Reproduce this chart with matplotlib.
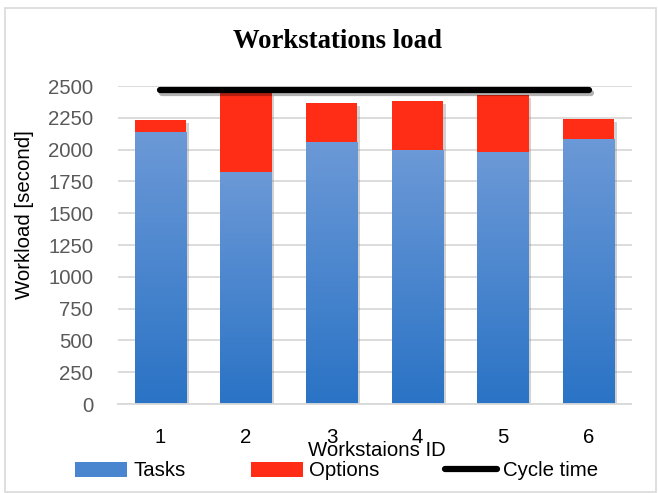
import numpy as np
import matplotlib
matplotlib.use("Agg")
import matplotlib.pyplot as plt
import matplotlib.patheffects as pe
from matplotlib.patches import Rectangle, Patch
from matplotlib.lines import Line2D

# data
stations = ["1", "2", "3", "4", "5", "6"]
tasks = [2138, 1824, 2060, 1997, 1981, 2083]
options = [95, 619, 306, 385, 448, 158]
cycle_time = 2470

plt.rcParams['font.family'] = ['Liberation Sans', 'DejaVu Sans']
fs = 14.7

fig = plt.figure(figsize=(6.58, 4.93), dpi=100)
ax = fig.add_axes([117.5 / 658, 1 - 404 / 493, 514 / 658, 318 / 493])

x = np.arange(1, len(stations) + 1)
shadow = [pe.SimplePatchShadow(offset=(2, -2), shadow_rgbFace='#808080', alpha=0.35), pe.Normal()]

b1 = ax.bar(x, tasks, width=0.6, color='#4a86cf', zorder=2, path_effects=shadow)
b2 = ax.bar(x, options, width=0.6, bottom=tasks, color='#ff2d16', zorder=2, path_effects=shadow)

# vertical gradient on the task bars (lighter at top, darker at bottom)
grad = np.linspace(0, 1, 256).reshape(-1, 1)
cmap = matplotlib.colors.LinearSegmentedColormap.from_list('bl', ['#2a73c5', '#6c99d7'])
for bar in b1:
    bx, by = bar.get_x(), bar.get_y()
    w, h = bar.get_width(), bar.get_height()
    im = ax.imshow(grad, extent=[bx, bx + w, by, by + h], origin='lower', cmap=cmap,
                   aspect='auto', zorder=2.1)
    im.set_clip_path(bar)

ax.plot([x[0], x[-1]], [cycle_time, cycle_time], color='black', lw=4.5,
        solid_capstyle='round', zorder=3,
        path_effects=[pe.SimpleLineShadow(offset=(1.5, -2.5), alpha=0.3), pe.Normal()])

ax.set_xlim(0.5, 6.5)
ax.set_ylim(0, 2500)
ax.set_yticks(range(0, 2501, 250))
ax.set_xticks(x)
ax.set_xticklabels(stations)
ax.grid(axis='y', color='#d9d9d9', lw=1.3, zorder=0)
ax.set_axisbelow(True)
for s in ['top', 'right', 'left']:
    ax.spines[s].set_visible(False)
ax.spines['bottom'].set_color('#d9d9d9')
ax.spines['bottom'].set_linewidth(1.3)
ax.tick_params(axis='y', length=0, labelsize=fs, labelcolor='#595959', pad=17.5)
ax.tick_params(axis='x', length=0, labelsize=fs, labelcolor='black', pad=17)

fig.text(337 / 658, 1 - 42 / 493, 'Workstations load', ha='center', va='center',
         fontsize=19.3, fontweight='bold', family=['Liberation Serif', 'DejaVu Serif'])
fig.text(25 / 658, 1 - 215 / 493, 'Workload [second]', rotation=90, ha='center', va='center',
         fontsize=fs)
fig.text(377 / 658, 1 - 451 / 493, 'Workstaions ID', ha='center', va='center', fontsize=fs)

handles = [Patch(facecolor='#4a86cf'), Patch(facecolor='#ff2d16'),
           Line2D([0], [0], color='black', lw=4.5, solid_capstyle='round')]
fig.legend(handles, ['Tasks', 'Options', 'Cycle time'], ncol=3, loc='center left',
           bbox_to_anchor=(75 / 658, 1 - 471 / 493), frameon=False, fontsize=fs,
           handlelength=2.55, handleheight=0.7, handletextpad=0.3, columnspacing=3.2,
           borderpad=0, borderaxespad=0)

fig.patches.append(Rectangle((5 / 658, 1 / 493), 651 / 658, 484 / 493, transform=fig.transFigure,
                             fill=False, edgecolor='#d9d9d9', lw=1.2))

fig.savefig('out.png', dpi=100)
